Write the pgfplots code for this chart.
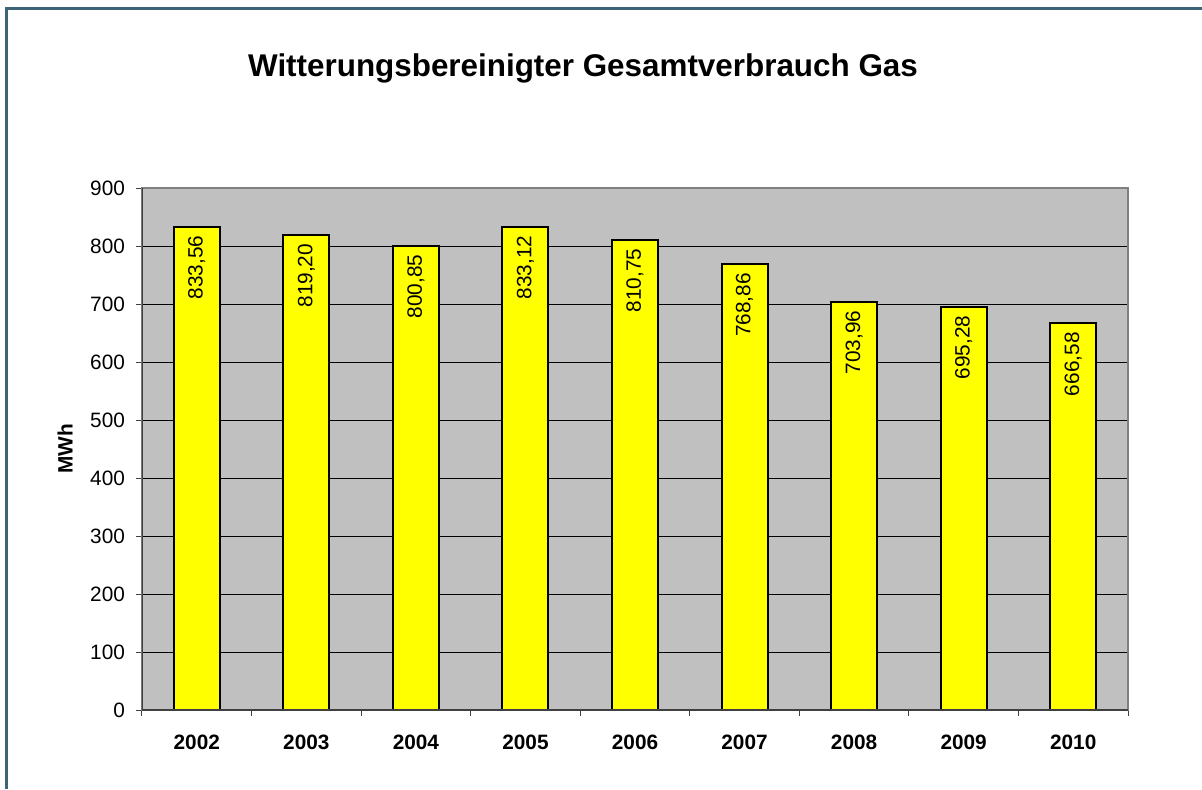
\documentclass[border=0pt]{standalone}
\usepackage{pgfplots}
\pgfplotsset{compat=1.18}
\usepackage{fontspec}
\setmainfont{Liberation Sans}
\definecolor{frameblue}{HTML}{3E6478}
\definecolor{plotgray}{HTML}{C0C0C0}
\definecolor{boxgray}{HTML}{808080}
\definecolor{baryellow}{HTML}{FFFF00}
\begin{document}
\begin{tikzpicture}
\useasboundingbox (-71pt,-39.5pt) rectangle (530pt,355pt);
\fill[white] (-71pt,-39.5pt) rectangle (530pt,355pt);
\draw[frameblue, line width=1.5pt] (-67.75pt,-39.5pt) -- (-67.75pt,350.75pt) -- (530pt,350.75pt);
\node[font=\fontsize{15.7pt}{18pt}\selectfont\bfseries] at (220.5pt,321pt) {Witterungsbereinigter Gesamtverbrauch Gas};
\begin{axis}[
  at={(0,0)}, anchor=south west,
  scale only axis, width=493pt, height=261pt,
  xmin=-0.5, xmax=8.5, ymin=0, ymax=900,
  ytick={0,100,...,900},
  xtick={-0.5,0.5,...,8.5},
  xticklabels={2002,2003,2004,2005,2006,2007,2008,2009,2010},
  x tick label as interval,
  xtick pos=bottom, ytick pos=left,
  tick align=outside,
  major tick length=3pt,
  tick style={draw=black!75, line width=0.5pt},
  axis background/.style={fill=plotgray},
  axis line style={draw=boxgray, line width=1pt},
  ymajorgrids,
  major grid style={draw=black, line width=0.5pt},
  ticklabel style={font=\fontsize{10.4pt}{12pt}\selectfont},
  xticklabel style={font=\fontsize{10.4pt}{12pt}\selectfont\bfseries, yshift=-6pt},
  yticklabel style={xshift=-2pt},
  /pgf/number format/assume math mode=true,
  ylabel={MWh},
  ylabel style={font=\fontsize{10.4pt}{12pt}\selectfont\bfseries, at={(-38.5pt,130.5pt)}, anchor=center},
  ybar, bar width=23pt,
  point meta=explicit symbolic,
  nodes near coords,
  nodes near coords style={rotate=90, anchor=east, inner sep=4pt, font=\fontsize{10.4pt}{12pt}\selectfont, black},
]
\addplot[fill=baryellow, draw=black, line width=1pt] coordinates {
  (0,833.56) [833,56]
  (1,819.20) [819,20]
  (2,800.85) [800,85]
  (3,833.12) [833,12]
  (4,810.75) [810,75]
  (5,768.86) [768,86]
  (6,703.96) [703,96]
  (7,695.28) [695,28]
  (8,666.58) [666,58]
};
\draw[black!75, line width=1pt] (rel axis cs:0,1) -- (rel axis cs:0,0) -- (rel axis cs:1,0);
\end{axis}
\end{tikzpicture}
\end{document}
